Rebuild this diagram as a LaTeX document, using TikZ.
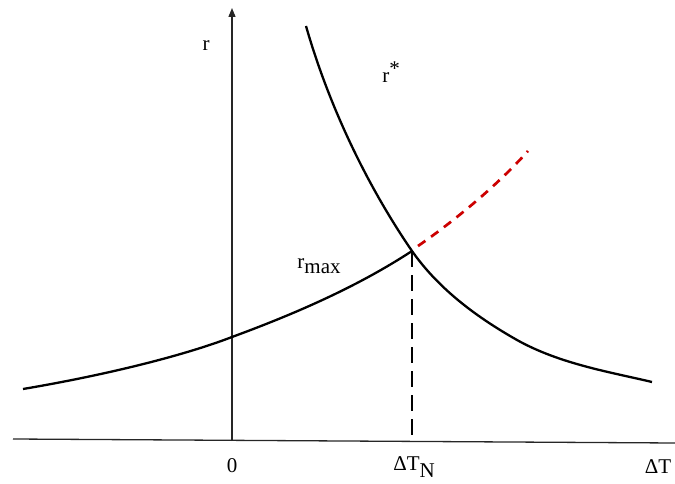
\documentclass[tikz,border=0pt]{standalone}
\usepackage{fontspec}
\setmainfont{Liberation Serif}
\usetikzlibrary{arrows.meta}
\begin{document}
\begin{tikzpicture}[x=1pt,y=-1pt,
  axis/.style={line width=1.3pt,black!85},
  curve/.style={line width=2.3pt,black},
  lbl/.style={font=\fontsize{21}{24}\selectfont,inner sep=0pt},
  reddash/.style={line width=2.7pt,color={rgb,255:red,204;green,0;blue,0},dash pattern=on 9pt off 7pt},
  blackdash/.style={line width=2.3pt,black,dash pattern=on 16pt off 8pt}]
\useasboundingbox (0,0) rectangle (675,484);
% axes
\coordinate (xl) at (13,439);
\coordinate (xr) at (675,443);
\coordinate (yb) at (232,441);
\coordinate (yt) at (232,8);
\draw[axis] (xl) -- (xr);
\draw[axis,-{Triangle[length=9pt,width=7pt]}] (yb) -- (yt);
% key points
\coordinate (I) at (412,251);
\coordinate (IB) at (412,440);
\coordinate (S0) at (306,26);
\coordinate (S1) at (517,340);
\coordinate (S2) at (652,382);
\coordinate (M0) at (23,389);
\coordinate (M1) at (232,337);
\coordinate (R0) at (418,246);
\coordinate (R1) at (528,151);
% r* curve
\draw[curve] (S0) .. controls (330,110) and (370,190) .. (I)
  .. controls (440,291) and (480,319) .. (S1)
  .. controls (560,364) and (610,372) .. (S2);
% r_max curve
\draw[curve] (M0) .. controls (100,376) and (180,357) .. (M1)
  .. controls (300,312) and (360,285) .. (I);
% red dashed continuation
\draw[reddash] (R0) .. controls (450,224) and (495,188) .. (R1);
% vertical dashed
\draw[blackdash] (I) -- (IB);
% labels
\node[lbl] (lr) at (206,46) {r};
\node[lbl] (lrs) at (391,72) {r\raisebox{7pt}{*}};
\node[lbl] (lrm) at (319,266) {r\raisebox{-5pt}{max}};
\node[lbl] (l0) at (232,466) {0};
\node[lbl] (ldn) at (414,467) {ΔT\raisebox{-7pt}{N}};
\node[lbl] (ldt) at (658,467) {ΔT};
\end{tikzpicture}
\end{document}
